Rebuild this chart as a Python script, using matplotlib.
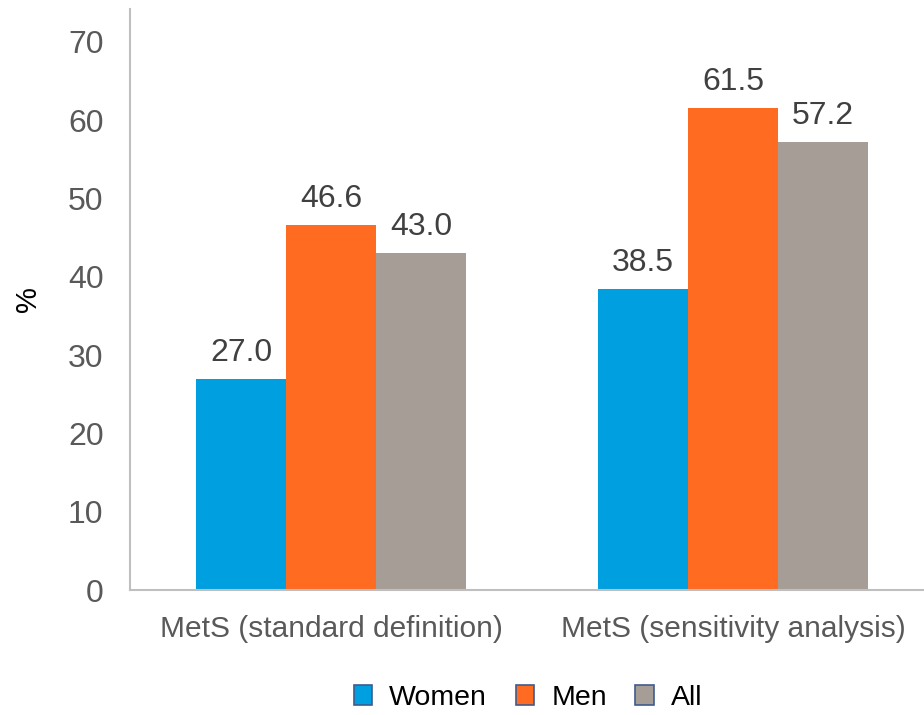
import matplotlib.pyplot as plt
import numpy as np

plt.rcParams['font.family'] = ['Liberation Sans', 'DejaVu Sans']

categories = ["MetS (standard definition)", "MetS (sensitivity analysis)"]
series = ["Women", "Men", "All"]
women = [27.0, 38.5]
men = [46.6, 61.5]
all_ = [43.0, 57.2]
colors = ["#009FDF", "#FF6B21", "#A59D96"]

text_color = "#595959"

fig = plt.figure(figsize=(9.24, 7.15), dpi=100)
# plot area runs slightly past the right edge of the canvas
ax = fig.add_axes([130 / 924, 1 - 590 / 715, 804 / 924, 581 / 715])

x = np.arange(len(categories))
width = 0.224
for i, (vals, c) in enumerate(zip([women, men, all_], colors)):
    b = ax.bar(x + (i - 1) * width, vals, width, color=c, label=series[i], zorder=2)
    for rect, v in zip(b, vals):
        ax.text(rect.get_x() + rect.get_width() / 2, v + 1.4, f"{v:.1f}",
                ha="center", va="bottom", fontsize=23, color="#404040")

ax.set_xlim(-0.5, 1.5)
ax.set_ylim(0, 74.2)
ax.set_yticks(range(0, 71, 10))
ax.tick_params(axis="y", length=0, labelsize=23, labelcolor=text_color, pad=19)
ax.set_xticks(x)
ax.set_xticklabels(categories)
ax.tick_params(axis="x", length=0, labelsize=21.5, labelcolor=text_color, pad=18)

for s in ["top", "right"]:
    ax.spines[s].set_visible(False)
for s in ["left", "bottom"]:
    ax.spines[s].set_color("#BFBFBF")
    ax.spines[s].set_linewidth(1.5)

ax.set_ylabel("%", fontsize=21, color="black", labelpad=19)

handles = [plt.Rectangle((0, 0), 1, 1, facecolor=c, edgecolor="#3E5C8F", linewidth=1.2)
           for c in colors]
fig.legend(handles, series, loc="center", bbox_to_anchor=(528 / 924, 1 - 698 / 715),
           ncol=3, frameon=False, fontsize=20.5, handlelength=0.65, handleheight=0.65,
           columnspacing=1.0, handletextpad=0.6, labelcolor="black")

fig.savefig("out.png", dpi=100)
